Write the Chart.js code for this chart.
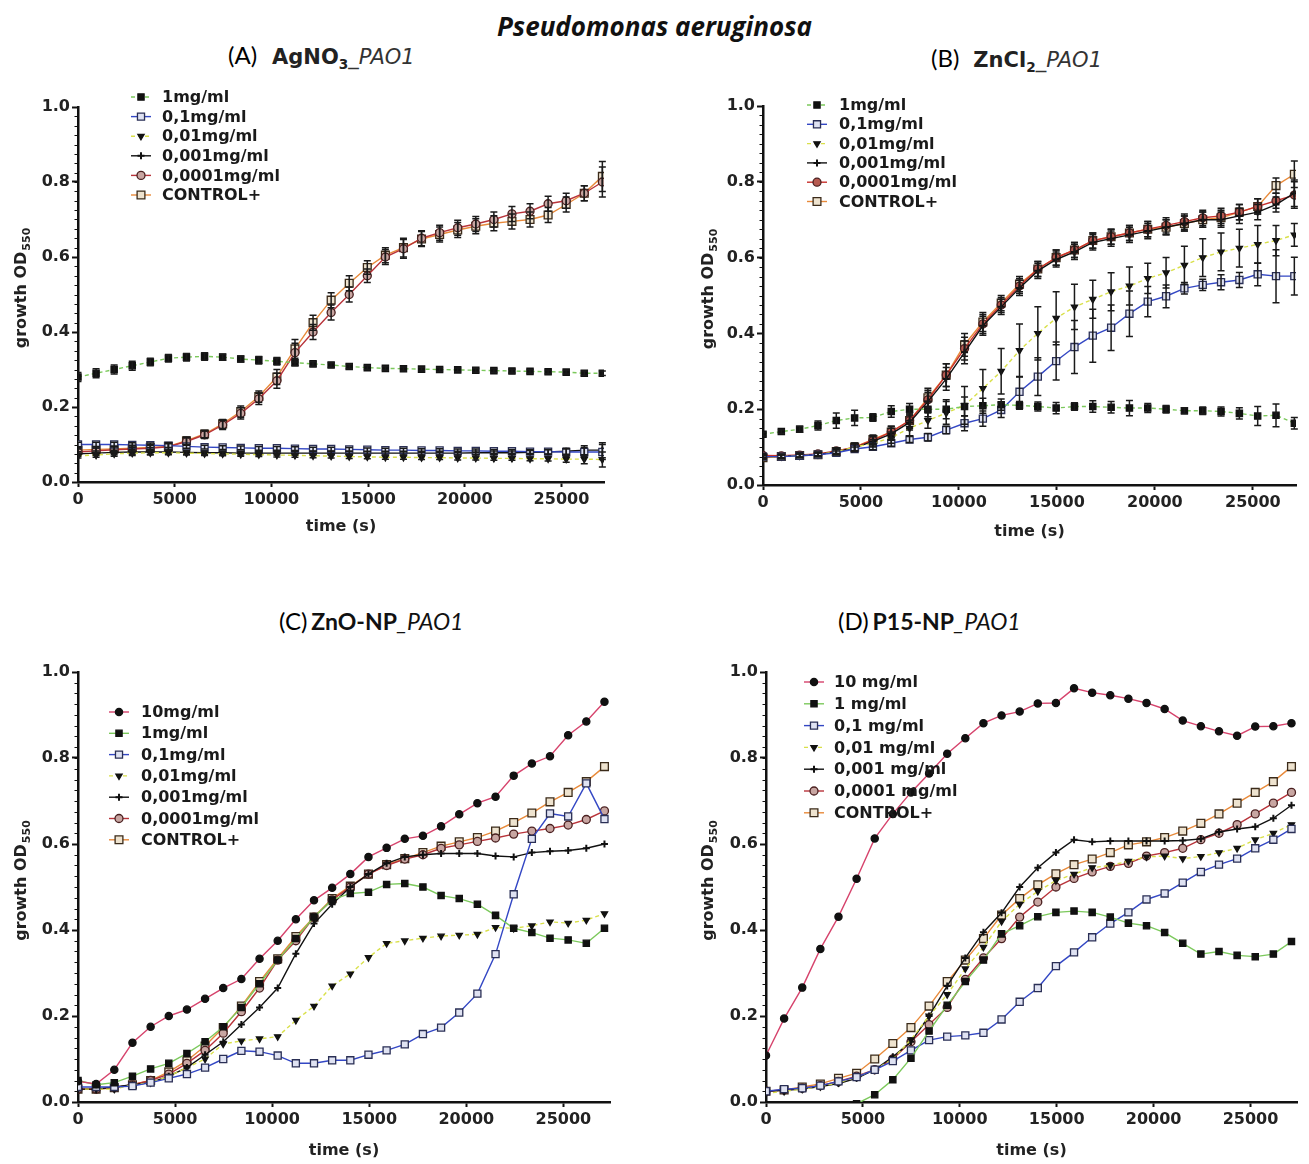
<!DOCTYPE html>
<html>
<head>
<meta charset="utf-8">
<script src="https://cdn.jsdelivr.net/npm/chart.js@4.4.1/dist/chart.umd.min.js"></script>
<style>
  body { margin: 0; background: #fff; width: 1309px; height: 1164px; overflow: hidden; position: relative; }
  .box { position: absolute; }
  .t { position: absolute; white-space: nowrap; color: #111; }
  .par { font-family: Lato, "Open Sans", sans-serif; font-size: 24px; color: #000; }
  .gp-b { font-family: "DejaVu Sans", sans-serif; font-weight: bold; font-size: 21px; color: #222; }
  .gp-i { font-family: "DejaVu Sans", sans-serif; font-style: italic; font-size: 21px; color: #333; }
  .cl-b { font-family: Lato, sans-serif; font-weight: bold; font-size: 23px; }
  .cl-i { font-family: Lato, sans-serif; font-style: italic; font-size: 23px; }
  sub { font-size: 0.65em; }
</style>
</head>
<body>

<div class="t" style="left:0;width:1309px;top:8px;text-align:center;font-family:'Open Sans',sans-serif;font-weight:bold;font-style:italic;font-size:26px;">Pseudomonas aeruginosa</div>

<div class="t" style="left:228px;top:40px;"><span class="par">(A)</span><span class="gp-b" style="margin-left:15px">AgNO<sub>3</sub></span><span class="gp-i">_PAO1</span></div>
<div class="t" style="left:931px;top:43px;"><span class="par">(B)</span><span class="gp-b" style="margin-left:14px">ZnCl<sub>2</sub></span><span class="gp-i">_PAO1</span></div>
<div class="t" style="left:279px;top:606px;"><span class="par">(C)</span> <span class="cl-b">ZnO-NP</span><span class="cl-i">_PAO1</span></div>
<div class="t" style="left:838px;top:606px;"><span class="par">(D)</span> <span class="cl-b">P15-NP</span><span class="cl-i">_PAO1</span></div>

<div class="box" style="left:0px;top:80px;width:620px;height:460px;"><canvas id="chartA"></canvas></div>
<div class="box" style="left:690px;top:80px;width:619px;height:465px;"><canvas id="chartB"></canvas></div>
<div class="box" style="left:0px;top:640px;width:625px;height:524px;"><canvas id="chartC"></canvas></div>
<div class="box" style="left:690px;top:640px;width:619px;height:524px;"><canvas id="chartD"></canvas></div>

<script>
/* ---------------- données ---------------- */

const TIMES = [0, 935, 1870, 2805, 3740, 4675, 5610, 6545, 7480, 8415, 9350, 10285, 11220, 12155, 13090,
               14025, 14960, 15895, 16830, 17765, 18700, 19635, 20570, 21505, 22440, 23375, 24310, 25245, 26180, 27115];
const X_TICKS = [0, 5000, 10000, 15000, 20000, 25000];
const Y_TICKS = [0, 0.2, 0.4, 0.6, 0.8, 1.0];

const LABELS_AB = ['1mg/ml', '0,1mg/ml', '0,01mg/ml', '0,001mg/ml', '0,0001mg/ml', 'CONTROL+'];
const LABELS_C = ['10mg/ml', '1mg/ml', '0,1mg/ml', '0,01mg/ml', '0,001mg/ml', '0,0001mg/ml', 'CONTROL+'];
const LABELS_D = ['10 mg/ml', '1 mg/ml', '0,1 mg/ml', '0,01 mg/ml', '0,001 mg/ml', '0,0001 mg/ml', 'CONTROL+'];

// (A) AgNO3
const A_1MG = [0.28, 0.29, 0.30, 0.31, 0.32, 0.33, 0.333, 0.335, 0.333, 0.328, 0.325, 0.322, 0.318, 0.315, 0.312,
               0.308, 0.305, 0.303, 0.302, 0.301, 0.300, 0.299, 0.298, 0.297, 0.296, 0.295, 0.294, 0.293, 0.290, 0.290];
const A_01MG = [0.10, 0.10, 0.10, 0.099, 0.098, 0.097, 0.095, 0.093, 0.092, 0.091, 0.09, 0.09, 0.089, 0.088, 0.088,
                0.087, 0.086, 0.085, 0.085, 0.084, 0.084, 0.083, 0.083, 0.082, 0.082, 0.081, 0.081, 0.080, 0.080, 0.080];
const A_001MG = [0.07, 0.072, 0.075, 0.077, 0.078, 0.078, 0.077, 0.076, 0.075, 0.074, 0.073, 0.072, 0.071, 0.070, 0.069,
                 0.068, 0.067, 0.066, 0.066, 0.065, 0.065, 0.064, 0.064, 0.063, 0.063, 0.062, 0.062, 0.061, 0.061, 0.060];
const A_0001MG = [0.075, 0.077, 0.079, 0.08, 0.08, 0.08, 0.079, 0.078, 0.078, 0.077, 0.077, 0.077, 0.077, 0.077, 0.077,
                  0.077, 0.077, 0.077, 0.077, 0.077, 0.077, 0.077, 0.078, 0.078, 0.078, 0.079, 0.08, 0.082, 0.085, 0.085];
const A_00001MG = [0.08, 0.083, 0.086, 0.088, 0.09, 0.094, 0.108, 0.126, 0.152, 0.183, 0.222, 0.27, 0.345, 0.40, 0.452,
                   0.50, 0.55, 0.60, 0.622, 0.65, 0.665, 0.678, 0.688, 0.70, 0.715, 0.722, 0.742, 0.75, 0.77, 0.80];
const A_CONTROL = [0.085, 0.087, 0.088, 0.09, 0.092, 0.095, 0.11, 0.128, 0.155, 0.188, 0.228, 0.28, 0.355, 0.425, 0.485,
                   0.53, 0.572, 0.605, 0.625, 0.648, 0.66, 0.672, 0.682, 0.69, 0.695, 0.70, 0.712, 0.74, 0.77, 0.815];
const A_1MG_ERR = [0.012, 0.012, 0.012, 0.012, 0.01, 0.01, 0.01, 0.01, 0.008, 0.008, 0.01, 0.01, 0.008, 0.006, 0.006,
                   0.006, 0.005, 0.005, 0.005, 0.005, 0.005, 0.005, 0.005, 0.005, 0.005, 0.005, 0.005, 0.005, 0.006, 0.006];
const A_LOW_ERR = [0.006, 0.006, 0.006, 0.006, 0.006, 0.005, 0.005, 0.005, 0.005, 0.005, 0.005, 0.005, 0.005, 0.005, 0.005,
                   0.005, 0.005, 0.005, 0.005, 0.005, 0.005, 0.005, 0.005, 0.005, 0.005, 0.005, 0.006, 0.008, 0.012, 0.02];
const A_GROWTH_ERR = [0.008, 0.008, 0.008, 0.008, 0.008, 0.01, 0.01, 0.01, 0.012, 0.015, 0.015, 0.02, 0.025, 0.02, 0.02,
                      0.02, 0.018, 0.02, 0.025, 0.02, 0.02, 0.02, 0.02, 0.02, 0.02, 0.02, 0.02, 0.02, 0.02, 0.04];

// (B) ZnCl2
const B_1MG = [0.134, 0.141, 0.147, 0.157, 0.17, 0.177, 0.178, 0.194, 0.2, 0.2, 0.2, 0.207, 0.209, 0.212, 0.21,
               0.207, 0.203, 0.207, 0.207, 0.205, 0.203, 0.203, 0.2, 0.196, 0.196, 0.194, 0.189, 0.182, 0.184, 0.163];
const B_01MG = [0.075, 0.075, 0.077, 0.08, 0.085, 0.095, 0.101, 0.11, 0.12, 0.126, 0.145, 0.163, 0.175, 0.198, 0.246,
                0.286, 0.327, 0.364, 0.394, 0.415, 0.452, 0.484, 0.498, 0.519, 0.528, 0.535, 0.541, 0.556, 0.551, 0.551];
const B_001MG = [0.075, 0.075, 0.077, 0.08, 0.088, 0.10, 0.11, 0.125, 0.15, 0.17, 0.19, 0.21, 0.255, 0.30, 0.355,
                 0.40, 0.44, 0.47, 0.49, 0.51, 0.525, 0.545, 0.56, 0.58, 0.60, 0.615, 0.625, 0.635, 0.645, 0.66];
const B_0001MG = [0.075, 0.075, 0.078, 0.08, 0.088, 0.098, 0.115, 0.135, 0.165, 0.22, 0.28, 0.35, 0.42, 0.47, 0.52,
                  0.565, 0.595, 0.615, 0.64, 0.65, 0.66, 0.67, 0.68, 0.69, 0.70, 0.70, 0.71, 0.72, 0.74, 0.77];
const B_00001MG = [0.078, 0.077, 0.079, 0.082, 0.09, 0.10, 0.118, 0.14, 0.17, 0.225, 0.29, 0.36, 0.425, 0.475, 0.525,
                   0.57, 0.60, 0.62, 0.645, 0.655, 0.665, 0.675, 0.685, 0.695, 0.705, 0.71, 0.72, 0.735, 0.75, 0.765];
const B_CONTROL = [0.072, 0.075, 0.078, 0.08, 0.088, 0.10, 0.12, 0.14, 0.17, 0.23, 0.29, 0.37, 0.43, 0.48, 0.53,
                   0.57, 0.60, 0.62, 0.645, 0.655, 0.665, 0.675, 0.68, 0.69, 0.70, 0.705, 0.72, 0.735, 0.79, 0.82];
const B_1MG_ERR = [0.005, 0.005, 0.008, 0.012, 0.02, 0.02, 0.01, 0.015, 0.015, 0.02, 0.025, 0.025, 0.02, 0.015, 0.01,
                   0.012, 0.015, 0.01, 0.015, 0.015, 0.02, 0.012, 0.01, 0.008, 0.01, 0.012, 0.015, 0.025, 0.03, 0.015];
const B_01MG_ERR = [0.005, 0.005, 0.005, 0.005, 0.005, 0.005, 0.008, 0.008, 0.008, 0.01, 0.01, 0.02, 0.02, 0.02, 0.04,
                    0.05, 0.05, 0.07, 0.07, 0.06, 0.06, 0.04, 0.03, 0.015, 0.015, 0.02, 0.02, 0.03, 0.07, 0.05];
const B_001MG_ERR = [0.005, 0.005, 0.005, 0.005, 0.005, 0.01, 0.01, 0.015, 0.02, 0.02, 0.03, 0.05, 0.05, 0.06, 0.07,
                     0.07, 0.07, 0.06, 0.05, 0.05, 0.05, 0.04, 0.04, 0.05, 0.05, 0.05, 0.05, 0.05, 0.04, 0.03];
const B_GROWTH_ERR = [0.005, 0.005, 0.005, 0.005, 0.008, 0.01, 0.012, 0.015, 0.02, 0.025, 0.03, 0.03, 0.025, 0.02, 0.02,
                      0.02, 0.02, 0.02, 0.02, 0.02, 0.02, 0.02, 0.02, 0.02, 0.02, 0.02, 0.02, 0.02, 0.02, 0.035];

// (C) ZnO-NP
const C_10MG = [0.048, 0.042, 0.075, 0.138, 0.175, 0.20, 0.215, 0.24, 0.265, 0.286, 0.333, 0.375, 0.425, 0.469, 0.498,
                0.53, 0.57, 0.591, 0.612, 0.619, 0.641, 0.669, 0.695, 0.71, 0.759, 0.787, 0.804, 0.853, 0.885, 0.931];
const C_1MG = [0.05, 0.04, 0.045, 0.06, 0.077, 0.09, 0.113, 0.14, 0.175, 0.22, 0.275, 0.33, 0.38, 0.43, 0.47,
               0.485, 0.488, 0.506, 0.508, 0.50, 0.48, 0.473, 0.46, 0.434, 0.404, 0.394, 0.381, 0.377, 0.369, 0.404];
const C_01MG = [0.035, 0.035, 0.035, 0.037, 0.045, 0.055, 0.065, 0.08, 0.10, 0.119, 0.117, 0.108, 0.09, 0.09, 0.097,
                0.097, 0.11, 0.12, 0.134, 0.158, 0.173, 0.208, 0.252, 0.344, 0.483, 0.612, 0.671, 0.664, 0.741, 0.658];
const C_001MG = [0.03, 0.03, 0.03, 0.04, 0.045, 0.06, 0.08, 0.10, 0.135, 0.142, 0.147, 0.152, 0.19, 0.223, 0.27,
                 0.298, 0.336, 0.369, 0.375, 0.381, 0.386, 0.388, 0.39, 0.406, 0.404, 0.41, 0.419, 0.416, 0.423, 0.438];
const C_0001MG = [0.03, 0.03, 0.035, 0.04, 0.045, 0.06, 0.08, 0.11, 0.14, 0.18, 0.22, 0.265, 0.345, 0.415, 0.46,
                  0.50, 0.53, 0.555, 0.57, 0.575, 0.578, 0.578, 0.578, 0.572, 0.57, 0.58, 0.583, 0.585, 0.59, 0.60];
const C_00001MG = [0.03, 0.03, 0.033, 0.04, 0.05, 0.065, 0.09, 0.12, 0.16, 0.21, 0.265, 0.33, 0.375, 0.43, 0.47,
                   0.50, 0.53, 0.55, 0.565, 0.575, 0.59, 0.598, 0.606, 0.614, 0.623, 0.63, 0.636, 0.644, 0.657, 0.677];
const C_CONTROL = [0.03, 0.03, 0.033, 0.04, 0.05, 0.07, 0.096, 0.13, 0.173, 0.223, 0.28, 0.333, 0.385, 0.43, 0.473,
                   0.502, 0.53, 0.552, 0.566, 0.58, 0.595, 0.605, 0.615, 0.63, 0.65, 0.672, 0.698, 0.72, 0.745, 0.78];

// (D) P15-NP
const D_10MG = [0.108, 0.194, 0.266, 0.356, 0.431, 0.519, 0.613, 0.67, 0.72, 0.764, 0.81, 0.846, 0.881, 0.899, 0.908,
                0.927, 0.928, 0.962, 0.952, 0.946, 0.938, 0.928, 0.914, 0.887, 0.874, 0.862, 0.852, 0.873, 0.874, 0.881];
const D_1MG = [null, null, null, null, -0.03, -0.004, 0.017, 0.052, 0.102, 0.165, 0.225, 0.28, 0.33, 0.391, 0.41,
               0.431, 0.441, 0.444, 0.441, 0.43, 0.416, 0.41, 0.394, 0.369, 0.344, 0.35, 0.341, 0.338, 0.344, 0.373];
const D_01MG = [0.025, 0.03, 0.032, 0.038, 0.048, 0.058, 0.075, 0.095, 0.12, 0.144, 0.152, 0.155, 0.161, 0.192, 0.233,
                0.265, 0.316, 0.348, 0.383, 0.415, 0.441, 0.471, 0.485, 0.51, 0.535, 0.552, 0.566, 0.59, 0.61, 0.635];
const D_001MG = [0.02, 0.025, 0.03, 0.036, 0.045, 0.058, 0.075, 0.10, 0.145, 0.20, 0.25, 0.31, 0.36, 0.42, 0.46,
                 0.49, 0.515, 0.53, 0.545, 0.55, 0.56, 0.57, 0.572, 0.566, 0.571, 0.58, 0.59, 0.61, 0.625, 0.645];
const D_0001MG = [0.025, 0.027, 0.03, 0.036, 0.043, 0.055, 0.075, 0.105, 0.14, 0.20, 0.27, 0.335, 0.395, 0.44, 0.50,
                  0.545, 0.58, 0.61, 0.605, 0.607, 0.607, 0.607, 0.607, 0.608, 0.612, 0.628, 0.635, 0.64, 0.66, 0.69];
const D_00001MG = [0.025, 0.028, 0.032, 0.038, 0.048, 0.06, 0.075, 0.10, 0.14, 0.18, 0.22, 0.285, 0.335, 0.38, 0.43,
                   0.465, 0.50, 0.52, 0.535, 0.548, 0.555, 0.572, 0.58, 0.59, 0.61, 0.625, 0.645, 0.67, 0.695, 0.72];
const D_CONTROL = [0.025, 0.028, 0.035, 0.042, 0.055, 0.067, 0.10, 0.136, 0.173, 0.223, 0.28, 0.33, 0.38, 0.435, 0.473,
                   0.505, 0.531, 0.552, 0.565, 0.58, 0.598, 0.605, 0.615, 0.63, 0.648, 0.67, 0.695, 0.72, 0.745, 0.78];

/* ---------------- styles des séries ---------------- */

const STYLE = {
  c10:    { color: '#d6436c', point: 'circle',   fill: '#111',    edge: '#111',    r: 3.6, dash: [] },
  c1:     { color: '#7cc95c', point: 'rect',     fill: '#111',    edge: '#111',    r: 4.4, dash: [4, 3] },
  c01:    { color: '#3347c4', point: 'rect',     fill: '#dfe2f2', edge: '#2a2f55', r: 5,   dash: [] },
  c001:   { color: '#d9e04a', point: 'triangle', fill: '#111',    edge: '#111',    r: 3.6, dash: [4, 3], rot: 180 },
  c0001:  { color: '#111111', point: 'cross',    fill: '#111',    edge: '#111',    r: 3.5, dash: [] },
  c00001: { color: '#b8333a', point: 'circle',   fill: '#c8a6a2', edge: '#4a2020', r: 4,   dash: [] },
  ctrl:   { color: '#e88a3a', point: 'rect',     fill: '#eee3cf', edge: '#3b2b1a', r: 5.5, dash: [] }
};
const C1_SOLID = { ...STYLE.c1, dash: [] };

const TICK_FONT = { family: '"DejaVu Sans", sans-serif', size: 16, weight: 'bold' };
const TITLE_FONT = { family: '"DejaVu Sans", sans-serif', size: 16, weight: 'bold' };

function series(label, values, st, errors) {
  return {
    label,
    data: values.map((v, i) => ({ x: TIMES[i], y: v })),
    borderColor: st.color,
    borderWidth: 1.4,
    borderDash: st.dash,
    pointStyle: st.point,
    pointRotation: st.rot || 0,
    pointRadius: st.r,
    pointBackgroundColor: st.fill,
    pointBorderColor: st.edge,
    pointBorderWidth: st.point === 'cross' ? 2 : 1.3,
    tension: 0,
    errors: errors || null
  };
}

/* ---------------- plugins ---------------- */

const errorBars = {
  id: 'errorBars',
  afterDatasetsDraw(chart) {
    const { ctx, chartArea, scales: { x, y } } = chart;
    ctx.save();
    ctx.beginPath();
    ctx.rect(chartArea.left, chartArea.top - 20, chartArea.width + 4, chartArea.height + 20);
    ctx.clip();
    ctx.strokeStyle = '#1a1a1a';
    ctx.lineWidth = 1.5;
    chart.data.datasets.forEach(ds => {
      if (!ds.errors) return;
      ds.data.forEach((p, i) => {
        const e = ds.errors[i];
        if (p.y == null || !e) return;
        const px = x.getPixelForValue(p.x);
        const top = y.getPixelForValue(p.y + e);
        const bot = y.getPixelForValue(p.y - e);
        ctx.beginPath();
        ctx.moveTo(px, top); ctx.lineTo(px, bot);
        ctx.moveTo(px - 3.5, top); ctx.lineTo(px + 3.5, top);
        ctx.moveTo(px - 3.5, bot); ctx.lineTo(px + 3.5, bot);
        ctx.stroke();
      });
    });
    ctx.restore();
  }
};

const legendInside = {
  id: 'legendInside',
  afterDatasetsDraw(chart, args, opts) {
    const ctx = chart.ctx;
    ctx.save();
    chart.data.datasets.forEach((ds, i) => {
      const y = opts.y + i * opts.step;
      ctx.strokeStyle = ds.borderColor;
      ctx.lineWidth = 1.4;
      ctx.setLineDash(ds.borderDash || []);
      ctx.beginPath();
      ctx.moveTo(opts.x - 10, y);
      ctx.lineTo(opts.x + 10, y);
      ctx.stroke();
      ctx.setLineDash([]);
      ctx.fillStyle = ds.pointBackgroundColor;
      ctx.strokeStyle = ds.pointBorderColor;
      ctx.lineWidth = ds.pointBorderWidth;
      Chart.helpers.drawPoint(ctx, {
        pointStyle: ds.pointStyle, rotation: ds.pointRotation, radius: ds.pointRadius, borderWidth: ds.pointBorderWidth
      }, opts.x, y);
      ctx.fillStyle = '#1a1a1a';
      ctx.font = 'bold 16px "DejaVu Sans"';
      ctx.textBaseline = 'middle';
      ctx.fillText(ds.label, opts.textX, y + 1);
    });
    ctx.restore();
  }
};

// titre de l'axe Y avec un vrai indice (OD550)
const yTitle = {
  id: 'yTitle',
  afterDraw(chart, args, opts) {
    const { ctx, chartArea } = chart;
    const main = 'growth OD', sub = '550';
    ctx.save();
    ctx.fillStyle = '#222';
    ctx.textBaseline = 'alphabetic';
    ctx.font = 'bold 16px "DejaVu Sans"';
    const w1 = ctx.measureText(main).width;
    ctx.font = 'bold 11px "DejaVu Sans"';
    const w2 = ctx.measureText(sub).width;
    const cy = (chartArea.top + chartArea.bottom) / 2 + opts.dy;
    ctx.translate(opts.x, cy);
    ctx.rotate(-Math.PI / 2);
    const x0 = -(w1 + w2) / 2;
    ctx.font = 'bold 16px "DejaVu Sans"';
    ctx.fillText(main, x0, 6);
    ctx.font = 'bold 11px "DejaVu Sans"';
    ctx.fillText(sub, x0 + w1 + 1, 10);
    ctx.restore();
  }
};

// petites graduations secondaires de l'axe Y (style GraphPad)
const minorTicks = {
  id: 'minorTicks',
  afterDraw(chart) {
    const { ctx, chartArea, scales: { y } } = chart;
    ctx.save();
    ctx.strokeStyle = '#111';
    ctx.lineWidth = 1;
    for (let k = 0; k <= 40; k++) {
      const py = Math.round(y.getPixelForValue(k * 0.025)) + 0.5;
      ctx.beginPath();
      ctx.moveTo(chartArea.left, py);
      ctx.lineTo(chartArea.left - 3.5, py);
      ctx.stroke();
    }
    ctx.restore();
  }
};

/* ---------------- graphiques ---------------- */

function makeChart(id, datasets, cfg) {
  return new Chart(document.getElementById(id), {
    type: 'line',
    data: { datasets },
    options: {
      responsive: true,
      maintainAspectRatio: false,
      animation: false,
      events: [],
      layout: { padding: { top: cfg.padTop, right: cfg.padRight, left: cfg.padLeft, bottom: 0 } },
      plugins: {
        legend: { display: false },
        tooltip: { enabled: false },
        legendInside: cfg.legend,
        yTitle: { x: cfg.padLeft + 14, dy: -6 }
      },
      scales: {
        x: {
          type: 'linear',
          min: 0,
          max: cfg.xMax,
          afterBuildTicks: s => { s.ticks = X_TICKS.map(v => ({ value: v })); },
          afterFit: s => { s.height = cfg.xH; },
          ticks: { font: TICK_FONT, color: '#222', padding: 3, maxRotation: 0, callback: v => String(v) },
          grid: { drawOnChartArea: false, drawTicks: true, tickLength: 5, tickWidth: 2, tickColor: '#111' },
          border: { color: '#111', width: 2.5 },
          title: { display: true, text: 'time (s)', font: TITLE_FONT, color: '#222', padding: { top: 0, bottom: 4 } }
        },
        y: {
          min: 0,
          max: 1,
          afterBuildTicks: s => { s.ticks = Y_TICKS.map(v => ({ value: v })); },
          afterFit: s => { s.width = cfg.yW; },
          ticks: { font: TICK_FONT, color: '#222', padding: 2, callback: v => v.toFixed(1) },
          grid: { drawOnChartArea: false, drawTicks: true, tickLength: 6, tickWidth: 2, tickColor: '#111' },
          border: { color: '#111', width: 2.5 },
          title: { display: false }
        }
      }
    },
    plugins: [errorBars, legendInside, minorTicks, yTitle]
  });
}

makeChart('chartA', [
  series(LABELS_AB[0], A_1MG, STYLE.c1, A_1MG_ERR),
  series(LABELS_AB[1], A_01MG, STYLE.c01, A_LOW_ERR),
  series(LABELS_AB[2], A_001MG, STYLE.c001, A_LOW_ERR),
  series(LABELS_AB[3], A_0001MG, STYLE.c0001, A_LOW_ERR),
  series(LABELS_AB[4], A_00001MG, STYLE.c00001, A_GROWTH_ERR),
  series(LABELS_AB[5], A_CONTROL, STYLE.ctrl, A_GROWTH_ERR)
], { padTop: 27, padRight: 16, padLeft: 6, yW: 72, xH: 58, xMax: 27200,
     legend: { x: 141, textX: 162, y: 17, step: 19.6 } });

makeChart('chartB', [
  series(LABELS_AB[0], B_1MG, STYLE.c1, B_1MG_ERR),
  series(LABELS_AB[1], B_01MG, STYLE.c01, B_01MG_ERR),
  series(LABELS_AB[2], B_001MG, STYLE.c001, B_001MG_ERR),
  series(LABELS_AB[3], B_0001MG, STYLE.c0001, B_GROWTH_ERR),
  series(LABELS_AB[4], B_00001MG, { ...STYLE.c00001, color: '#c8302c', fill: '#b65a50' }, B_GROWTH_ERR),
  series(LABELS_AB[5], B_CONTROL, STYLE.ctrl, B_GROWTH_ERR)
], { padTop: 26, padRight: 13, padLeft: 3, yW: 70, xH: 60, xMax: 27200,
     legend: { x: 127, textX: 149, y: 25, step: 19.3 } });

makeChart('chartC', [
  series(LABELS_C[0], C_10MG, STYLE.c10),
  series(LABELS_C[1], C_1MG, C1_SOLID),
  series(LABELS_C[2], C_01MG, STYLE.c01),
  series(LABELS_C[3], C_001MG, STYLE.c001),
  series(LABELS_C[4], C_0001MG, STYLE.c0001),
  series(LABELS_C[5], C_00001MG, STYLE.c00001),
  series(LABELS_C[6], C_CONTROL, STYLE.ctrl)
], { padTop: 32, padRight: 15, padLeft: 6, yW: 72, xH: 62, xMax: 27400,
     legend: { x: 119, textX: 141, y: 72, step: 21.3 } });

makeChart('chartD', [
  series(LABELS_D[0], D_10MG, STYLE.c10),
  series(LABELS_D[1], D_1MG, C1_SOLID),
  series(LABELS_D[2], D_01MG, STYLE.c01),
  series(LABELS_D[3], D_001MG, STYLE.c001),
  series(LABELS_D[4], D_0001MG, STYLE.c0001),
  series(LABELS_D[5], D_00001MG, STYLE.c00001),
  series(LABELS_D[6], D_CONTROL, STYLE.ctrl)
], { padTop: 32, padRight: 12, padLeft: 3, yW: 73, xH: 62, xMax: 27400,
     legend: { x: 124, textX: 144, y: 42, step: 21.8 } });
</script>
</body>
</html>
